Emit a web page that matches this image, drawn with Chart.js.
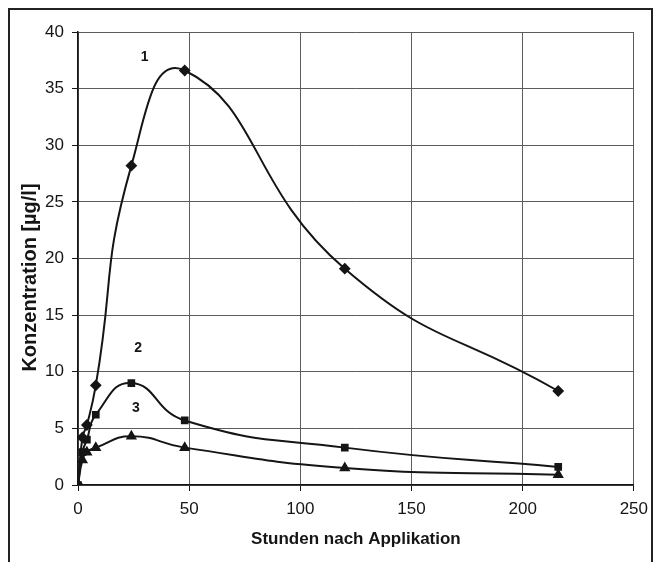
<!DOCTYPE html>
<html>
<head>
<meta charset="utf-8">
<script src="https://cdn.jsdelivr.net/npm/chart.js@4/dist/chart.umd.min.js"></script>
<style>
  html, body { margin: 0; padding: 0; background: #fff; }
  #wrap { width: 656px; height: 562px; }
</style>
</head>
<body>
<div id="wrap"><canvas id="konz" width="656" height="562"></canvas></div>
<script>
// Messzeitpunkte und Konzentrationen der drei Versuchsreihen
const stunden = [0, 2, 4, 8, 24, 48, 120, 216];
const reihe1 = [0, 4.2, 5.3, 8.8, 28.2, 36.6, 19.1, 8.3];
const reihe2 = [0, 2.9, 4.0, 6.2, 9.0, 5.7, 3.3, 1.6];
const reihe3 = [0, 2.2, 2.9, 3.3, 4.3, 3.3, 1.5, 0.9];
const reihenNamen = ["1", "2", "3"];
const yTitel = "Konzentration [µg/l]";

const ink = "#151515";
const font = "'Liberation Sans', Arial, sans-serif";

function punkte(werte) {
  return stunden.map((h, i) => ({ x: h, y: werte[i] }));
}

// Nummern der Kurven, in Datenkoordinaten verankert
const nummernOrte = [
  { x: 30, y: 37.8 },
  { x: 27, y: 12.1 },
  { x: 26, y: 6.8 }
];

const nummern = {
  id: "nummern",
  afterDatasetsDraw(chart) {
    const { ctx, scales } = chart;
    ctx.save();
    ctx.fillStyle = ink;
    ctx.font = "bold 14px " + font;
    ctx.textAlign = "center";
    ctx.textBaseline = "middle";
    nummernOrte.forEach((p, i) => {
      ctx.fillText(reihenNamen[i], scales.x.getPixelForValue(p.x), scales.y.getPixelForValue(p.y));
    });
    ctx.restore();
  }
};

// weisser Hintergrund, y-Achsentitel (etwas unter der Mitte) und Rahmen
const rahmen = {
  id: "rahmen",
  beforeDraw(chart) {
    const ctx = chart.ctx;
    ctx.save();
    ctx.fillStyle = "#fff";
    ctx.fillRect(0, 0, chart.width, chart.height);
    ctx.restore();
  },
  afterDraw(chart) {
    const ctx = chart.ctx;
    const area = chart.chartArea;
    ctx.save();
    ctx.translate(30, (area.top + area.bottom) / 2 + 19);
    ctx.rotate(-Math.PI / 2);
    ctx.fillStyle = ink;
    ctx.font = "bold 20px " + font;
    ctx.textAlign = "center";
    ctx.textBaseline = "middle";
    ctx.fillText(yTitel, 0, 0);
    ctx.restore();

    ctx.save();
    ctx.strokeStyle = "#222";
    ctx.lineWidth = 2;
    ctx.strokeRect(9, 9, 643, chart.height + 20);
    ctx.restore();
  }
};

const linie = {
  borderColor: ink,
  backgroundColor: ink,
  borderWidth: 2,
  showLine: true,
  tension: 0.5,
  pointBorderColor: ink,
  pointBackgroundColor: ink
};

new Chart(document.getElementById("konz"), {
  type: "scatter",
  data: {
    datasets: [
      { ...linie, label: reihenNamen[0], data: punkte(reihe1), pointStyle: "rectRot", pointRadius: 4.5 },
      { ...linie, label: reihenNamen[1], data: punkte(reihe2), pointStyle: "rect", pointRadius: 4 },
      { ...linie, label: reihenNamen[2], data: punkte(reihe3), pointStyle: "triangle", pointRadius: 4.5 }
    ]
  },
  options: {
    responsive: false,
    animation: false,
    layout: { padding: { left: 10, top: 32, right: 20, bottom: 0 } },
    plugins: {
      legend: { display: false },
      tooltip: { enabled: false }
    },
    scales: {
      x: {
        type: "linear",
        min: 0,
        max: 250,
        afterFit(scale) { scale.height = 77; },
        ticks: { stepSize: 50, color: ink, padding: 8, font: { family: font, size: 17 } },
        grid: { color: "#5c5c5c", lineWidth: 1, tickLength: 6, tickColor: ink },
        border: { color: ink, width: 1.5 },
        title: {
          display: true,
          text: "Stunden nach Applikation",
          color: ink,
          padding: { top: 0, bottom: 12 },
          font: { family: font, size: 17, weight: "bold" }
        }
      },
      y: {
        min: 0,
        max: 40,
        afterFit(scale) { scale.width = 68; },
        ticks: { stepSize: 5, color: ink, padding: 8, font: { family: font, size: 17 } },
        grid: { color: "#5c5c5c", lineWidth: 1, tickLength: 6, tickColor: ink },
        border: { color: ink, width: 1.5 }
      }
    }
  },
  plugins: [rahmen, nummern]
});
</script>
</body>
</html>
